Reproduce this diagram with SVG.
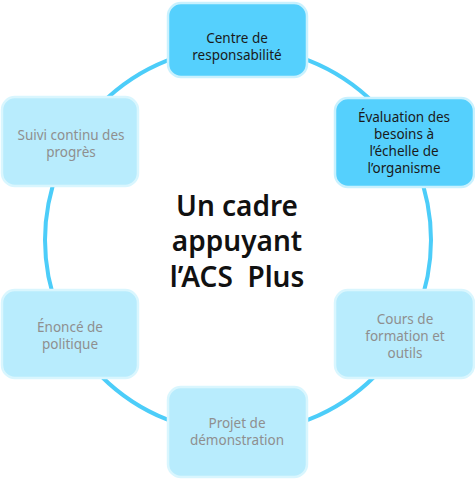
<svg xmlns="http://www.w3.org/2000/svg" width="475" height="482" viewBox="0 0 475 482">
<style>
.ring{fill:none;stroke:#4ccdf9;stroke-width:4}
.dk{fill:#55d0fd;stroke:#c9f1fe;stroke-width:2.5}
.lt{fill:#b8ecfd;stroke:#d9f6fe;stroke-width:2.5}
text{font-family:"Noto Sans","DejaVu Sans",sans-serif;font-size:13.5px;text-anchor:middle}
.td{fill:#1a1a1a}
.tl{fill:#8f8f8f}
.title{font-size:28px;font-weight:600;fill:#111}
</style>
<rect width="475" height="482" fill="#fff"/>
<g id="connectors">
<circle class="ring" cx="238" cy="240" r="193"/>
</g>
<g id="node-centre">
<rect class="dk" x="168" y="3" width="139" height="74" rx="13"/>
<text class="td" x="237" y="43">Centre de</text>
<text class="td" x="237" y="60">responsabilité</text>
</g>
<g id="node-evaluation">
<rect class="dk" x="335" y="98" width="139" height="89" rx="13"/>
<text class="td" x="404" y="122">Évaluation des</text>
<text class="td" x="404" y="139">besoins à</text>
<text class="td" x="404" y="156">l’échelle de</text>
<text class="td" x="404" y="173">l’organisme</text>
</g>
<g id="node-cours">
<rect class="lt" x="335" y="290" width="139" height="88" rx="13"/>
<text class="tl" x="405" y="324">Cours de</text>
<text class="tl" x="405" y="341">formation et</text>
<text class="tl" x="405" y="358">outils</text>
</g>
<g id="node-projet">
<rect class="lt" x="168" y="387" width="139" height="90" rx="13"/>
<text class="tl" x="237" y="428">Projet de</text>
<text class="tl" x="237" y="445">démonstration</text>
</g>
<g id="node-enonce">
<rect class="lt" x="2" y="290" width="136" height="88" rx="13"/>
<text class="tl" x="70" y="332">Énoncé de</text>
<text class="tl" x="70" y="349">politique</text>
</g>
<g id="node-suivi">
<rect class="lt" x="2" y="97" width="136" height="89" rx="13"/>
<text class="tl" x="71" y="140">Suivi continu des</text>
<text class="tl" x="71" y="157">progrès</text>
</g>
<g id="center-title">
<text class="title" x="237" y="216">Un cadre</text>
<text class="title" x="237" y="251">appuyant</text>
<text class="title" x="237" y="287">l’ACS&#160; Plus</text>
</g>
</svg>
